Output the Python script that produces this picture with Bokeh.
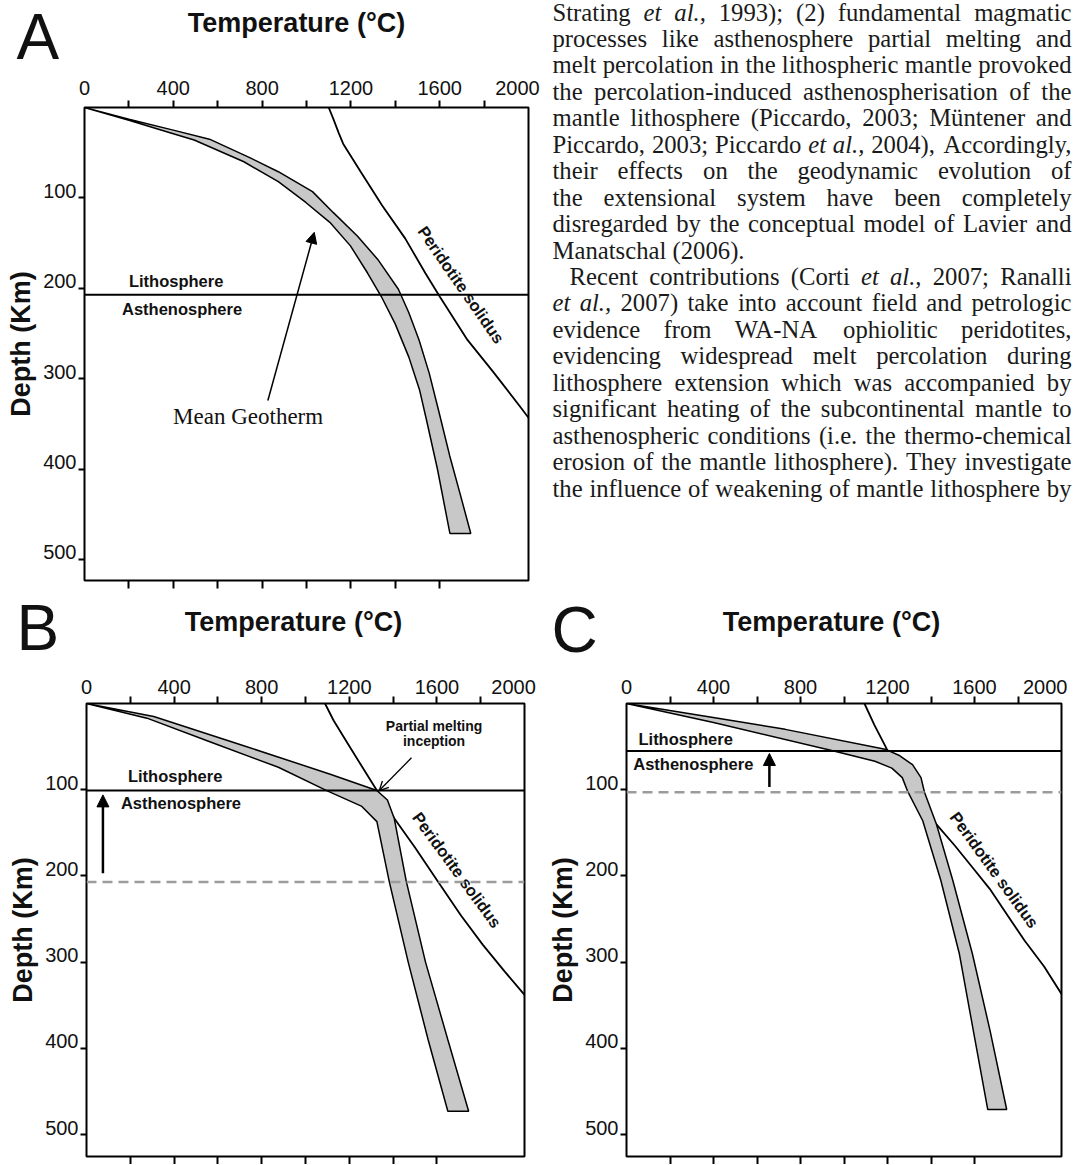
import math
from bokeh.plotting import figure
from bokeh.models import (Range1d, LinearAxis, FixedTicker, Arrow,
                          NormalHead, OpenHead, Span, ColumnDataSource)
from bokeh.layouts import row, column
from bokeh.embed import file_html
from bokeh.resources import INLINE
from bokeh.core.properties import value

# ---------------------------------------------------------------- data
TEMP_TICKS = [0, 400, 800, 1200, 1600, 2000]
TOP_MINOR_TICKS = [200, 400, 600, 800, 1000, 1200, 1400, 1600, 1800]
BOTTOM_TICKS = [200, 400, 600, 800, 1000, 1200, 1400, 1600]
DEPTH_TICKS = [100, 200, 300, 400, 500]
TEMP_TITLE = "Temperature (°C)"
DEPTH_TITLE = "Depth (Km)"
PANEL_LETTERS = ["A", "B", "C"]

# Panel A : mean geotherm band (cool / hot edge), peridotite solidus
A_cool_T = [0, 200, 400, 494, 718, 873, 997, 1105, 1198, 1275, 1337, 1399, 1461, 1510, 1540, 1590, 1646]
A_cool_d = [0, 14, 29, 36, 60, 82, 105, 127, 153, 183, 209, 239, 276, 313, 345, 400, 471]
A_hot_T = [0, 200, 400, 563, 749, 873, 1027, 1120, 1229, 1321, 1414, 1461, 1507, 1553, 1595, 1645, 1695, 1740]
A_hot_d = [0, 13, 25, 35, 56, 71, 93, 116, 142, 168, 201, 227, 257, 294, 335, 385, 430, 471]
A_sol_T = [1100, 1120, 1145, 1165, 1244, 1340, 1445, 1535, 1600, 1725, 1840, 1960, 2000]
A_sol_d = [0, 12, 28, 40, 71, 108, 145, 183, 209, 257, 292, 330, 343]
A_LITH = 207

# Panel B
B_cool_T = [0, 276, 560, 876, 1097, 1255, 1326, 1382, 1469, 1560, 1650]
B_cool_d = [0, 17, 44, 74, 101, 119, 137, 206, 300, 390, 473]
B_hot_T = [0, 307, 718, 1113, 1326, 1374, 1405, 1460, 1548, 1650, 1745]
B_hot_d = [0, 15, 49, 82, 101, 112, 133, 206, 300, 390, 473]
B_sol_T = [1089, 1129, 1192, 1255, 1326, 1370, 1405, 1500, 1603, 1710, 1810, 1910, 2000]
B_sol_d = [0, 20, 46, 72, 101, 118, 133, 167, 206, 246, 280, 311, 338]
B_LITH = 101
B_OLD_LITH = 207

# Panel C
C_cool_T = [0, 400, 953, 1142, 1220, 1268, 1291, 1362, 1445, 1530, 1595, 1661]
C_cool_d = [0, 22, 55, 67, 75, 86, 101, 136, 205, 290, 380, 471]
C_hot_T = [0, 420, 730, 1189, 1252, 1315, 1354, 1370, 1425, 1500, 1590, 1672, 1748]
C_hot_d = [0, 17, 30, 53, 60, 71, 86, 103, 140, 205, 290, 380, 471]
C_sol_T = [1094, 1140, 1197, 1260, 1320, 1380, 1417, 1510, 1590, 1670, 1750, 1830, 1920, 2000]
C_sol_d = [0, 25, 53, 80, 105, 125, 138, 165, 190, 215, 245, 275, 305, 337]
C_LITH = 55
C_OLD_LITH = 103

BODY_LINES = [
    "Strating *et *al., 1993); (2) fundamental magmatic",
    "processes like asthenosphere partial melting and",
    "melt percolation in the lithospheric mantle provoked",
    "the percolation-induced asthenospherisation of the",
    "mantle lithosphere (Piccardo, 2003; Müntener and",
    "Piccardo, 2003; Piccardo *et *al., 2004), Accordingly,",
    "their effects on the geodynamic evolution of",
    "the extensional system have been completely",
    "disregarded by the conceptual model of Lavier and",
    "Manatschal (2006).",
    "Recent contributions (Corti *et *al., 2007; Ranalli",
    "*et *al., 2007) take into account field and petrologic",
    "evidence from WA-NA ophiolitic peridotites,",
    "evidencing widespread melt percolation during",
    "lithosphere extension which was accompanied by",
    "significant heating of the subcontinental mantle to",
    "asthenospheric conditions (i.e. the thermo-chemical",
    "erosion of the mantle lithosphere). They investigate",
    "the influence of weakening of mantle lithosphere by",
]
BODY_JUSTIFY = [True] * 9 + [False] + [True] * 9
BODY_INDENT = [0] * 10 + [17] + [0] * 8

# ---------------------------------------------------------------- style
SANS = "Liberation Sans"
SERIF = "Liberation Serif"
INK = "#111111"
BAND = "#c8c8c8"
DASH_COL = "#9c9c9c"


def no_align(p):
    try:
        p.frame_align = False
    except Exception:
        pass
    return p


def blank_fig(w, h):
    f = figure(width=w, height=h, x_range=Range1d(0, w), y_range=Range1d(h, 0),
               x_axis_type=None, y_axis_type=None, output_backend="svg",
               toolbar_location=None, min_border=0, outline_line_color=None,
               background_fill_color="white", border_fill_color="white")
    return no_align(f)


def header(w, h, letter, letter_x, letter_mid, title_x, title_y):
    f = blank_fig(w, h)
    f.text(x=[letter_x], y=[letter_mid], text=[letter], text_font=value(SANS),
           text_font_size="64px", text_color=INK, text_align="left",
           text_baseline="middle")
    f.text(x=[title_x], y=[title_y], text=[TEMP_TITLE], text_font=value(SANS),
           text_font_size="27px", text_font_style="bold", text_color=INK,
           text_align="center", text_baseline="middle")
    return f


def make_panel(w, h, bl, br, bt, bb, dmax, last_label_pos, top_standoff):
    p = figure(width=w, height=h, x_range=Range1d(0, 2000), y_range=Range1d(dmax, 0),
               x_axis_type=None, y_axis_type=None, output_backend="svg",
               toolbar_location=None,
               min_border_left=bl, min_border_right=br, min_border_top=bt, min_border_bottom=bb,
               background_fill_color="white", border_fill_color="white",
               outline_line_color="black", outline_line_width=2)
    no_align(p)
    top_pos = TEMP_TICKS[:-1] + [last_label_pos]
    top = LinearAxis(
        ticker=FixedTicker(ticks=top_pos, minor_ticks=TOP_MINOR_TICKS),
        major_label_overrides={last_label_pos: str(TEMP_TICKS[-1])},
        major_tick_line_color=None, major_tick_out=7, major_tick_in=0,
        minor_tick_line_color="black", minor_tick_line_width=2, minor_tick_out=7, minor_tick_in=0,
        major_label_standoff=top_standoff, axis_line_color=None,
        major_label_text_font=SANS, major_label_text_font_size="20px", major_label_text_color=INK)
    p.add_layout(top, "above")
    left = LinearAxis(
        ticker=FixedTicker(ticks=[d - 8 for d in DEPTH_TICKS], minor_ticks=DEPTH_TICKS),
        major_label_overrides={d - 8: str(d) for d in DEPTH_TICKS},
        major_tick_line_color=None, major_tick_out=6, major_tick_in=0,
        minor_tick_line_color="black", minor_tick_line_width=2, minor_tick_out=6, minor_tick_in=0,
        major_label_standoff=2, axis_line_color=None,
        major_label_text_font=SANS, major_label_text_font_size="20px", major_label_text_color=INK,
        axis_label=DEPTH_TITLE, axis_label_standoff=4,
        axis_label_text_font=SANS, axis_label_text_font_size="27px",
        axis_label_text_font_style="bold", axis_label_text_color=INK)
    p.add_layout(left, "left")
    bottom = LinearAxis(
        ticker=FixedTicker(ticks=[], minor_ticks=BOTTOM_TICKS),
        major_tick_out=0, major_tick_in=0, major_label_standoff=0,
        minor_tick_line_color="black", minor_tick_line_width=2, minor_tick_out=8, minor_tick_in=0,
        axis_line_color=None)
    p.add_layout(bottom, "below")
    return p


def draw_geo(p, cool_T, cool_d, hot_T, hot_d, sol_T, sol_d):
    p.line(sol_T, sol_d, line_color="black", line_width=1.8)
    p.patch(cool_T + hot_T[::-1], cool_d + hot_d[::-1], fill_color=BAND,
            line_color="black", line_width=1.5)


def txt(p, x, y, s, size="16.5px", style="bold", font=SANS, align="left", angle=0.0):
    p.text(x=[x], y=[y], text=[s], text_font=value(font), text_font_size=size,
           text_font_style=style, text_color=INK, text_align=align,
           text_baseline="middle", angle=angle)


# ---------------------------------------------------------------- panel A
hA = header(540, 73, PANEL_LETTERS[0], 16, 36.5, 296, 22)
pA = make_panel(540, 517, 84, 12, 34, 10, 523, 1950, 6)
draw_geo(pA, A_cool_T, A_cool_d, A_hot_T, A_hot_d, A_sol_T, A_sol_d)
pA.add_layout(Span(location=A_LITH, dimension="width", line_color="black", line_width=2))
txt(pA, 200, 192, "Lithosphere")
txt(pA, 169, 223, "Asthenosphere")
txt(pA, 737, 342, "Mean Geotherm", size="23px", style="normal", font=SERIF, align="center")
txt(pA, 1697, 196, "Peridotite solidus", size="16.5px", align="center", angle=-0.965)
pA.add_layout(Arrow(end=NormalHead(size=11, fill_color="black", line_color="black"),
                    x_start=826, y_start=324, x_end=1035, y_end=138,
                    line_color="black", line_width=1.5))

# ---------------------------------------------------------------- panel B
hB = header(545, 80, PANEL_LETTERS[1], 16, 37, 293, 31)
pB = make_panel(545, 494, 86, 21, 33, 8, 525.5, 1950, 3)
draw_geo(pB, B_cool_T, B_cool_d, B_hot_T, B_hot_d, B_sol_T, B_sol_d)
pB.add_layout(Span(location=B_LITH, dimension="width", line_color="black", line_width=2))
pB.add_layout(Span(location=B_OLD_LITH, dimension="width", line_color=DASH_COL,
                   line_width=2.5, line_dash="10 6"))
txt(pB, 189, 84, "Lithosphere")
txt(pB, 157, 116, "Asthenosphere")
txt(pB, 1587, 26, "Partial melting", size="14px", align="center")
txt(pB, 1587, 44, "inception", size="14px", align="center")
txt(pB, 1692, 193, "Peridotite solidus", size="16.5px", align="center", angle=-0.94)
pB.add_layout(Arrow(end=OpenHead(size=9, line_color="black", line_width=1.3),
                    x_start=1484, y_start=63, x_end=1337, y_end=101,
                    line_color="black", line_width=1.3))
pB.add_layout(Arrow(end=NormalHead(size=12, fill_color="black", line_color="black"),
                    x_start=75, y_start=197, x_end=75, y_end=106,
                    line_color="black", line_width=2.5))

# ---------------------------------------------------------------- panel C
hC = header(530, 80, PANEL_LETTERS[2], 6, 39, 286, 31)
pC = make_panel(530, 494, 76, 14, 33, 8, 525.5, 1925, 3)
draw_geo(pC, C_cool_T, C_cool_d, C_hot_T, C_hot_d, C_sol_T, C_sol_d)
pC.add_layout(Span(location=C_LITH, dimension="width", line_color="black", line_width=2))
pC.add_layout(Span(location=C_OLD_LITH, dimension="width", line_color=DASH_COL,
                   line_width=2.5, line_dash="10 6"))
txt(pC, 55, 41, "Lithosphere")
txt(pC, 31, 70, "Asthenosphere")
txt(pC, 1692, 193, "Peridotite solidus", size="16.5px", align="center", angle=-0.945)
pC.add_layout(Arrow(end=NormalHead(size=12, fill_color="black", line_color="black"),
                    x_start=657, y_start=97, x_end=657, y_end=58,
                    line_color="black", line_width=2.5))

# ---------------------------------------------------------------- text column
FS = 24.7
TW, TH = 535, 590
X_LEFT, X_RIGHT = 12.0, 531.0
MID0, LEAD = 11.5, 26.45
_W = dict(zip("abcdefghijklmnopqrstuvwxyz",
              [444, 500, 444, 500, 444, 333, 500, 500, 278, 278, 500, 278, 778,
               500, 500, 500, 500, 333, 389, 278, 500, 500, 722, 500, 500, 444]))
_W.update(zip("ABCDEFGHIJKLMNOPQRSTUVWXYZ",
              [722, 667, 667, 722, 611, 556, 722, 722, 333, 389, 722, 611, 889,
               722, 722, 556, 722, 667, 556, 611, 722, 722, 944, 722, 722, 611]))
_W.update({c: 500 for c in "0123456789"})
_W.update({" ": 250, "(": 333, ")": 333, ",": 250, ".": 250, ";": 278, ":": 278,
           "-": 333, "ü": 500})


def wwidth(word, italic):
    tot = 0
    for ch in word:
        tot += 500 if (italic and ch == "a") else _W.get(ch, 500)
    return tot / 1000.0 * FS


roman = dict(x=[], y=[], text=[])
italic = dict(x=[], y=[], text=[])
rightw = dict(x=[], y=[], text=[])
for k, line in enumerate(BODY_LINES):
    words = [(t[1:], True) if t.startswith("*") else (t, False) for t in line.split(" ")]
    widths = [wwidth(w, it) for w, it in words]
    x0 = X_LEFT + BODY_INDENT[k]
    just = BODY_JUSTIFY[k] and len(words) > 1
    gap = (X_RIGHT - x0 - sum(widths)) / (len(words) - 1) if just else 0.25 * FS
    y = MID0 + LEAD * k
    x = x0
    for i, ((w, it), wd) in enumerate(zip(words, widths)):
        if just and i == len(words) - 1:
            tgt, xx = rightw, X_RIGHT
        else:
            tgt, xx = (italic if it else roman), x
        tgt["x"].append(xx)
        tgt["y"].append(y)
        tgt["text"].append(w)
        x += wd + gap

tf = blank_fig(TW, TH)
for src, style, align in ((roman, "normal", "left"), (italic, "italic", "left"),
                          (rightw, "normal", "right")):
    tf.text(x="x", y="y", text="text", source=ColumnDataSource(src),
            text_font=value(SERIF), text_font_size=f"{FS}px", text_font_style=style,
            text_color="#1a1a1a", text_align=align, text_baseline="middle")

layout = column(row(column(hA, pA), tf), row(column(hB, pB), column(hC, pC)))
open("out.html", "w").write(file_html(layout, INLINE))
